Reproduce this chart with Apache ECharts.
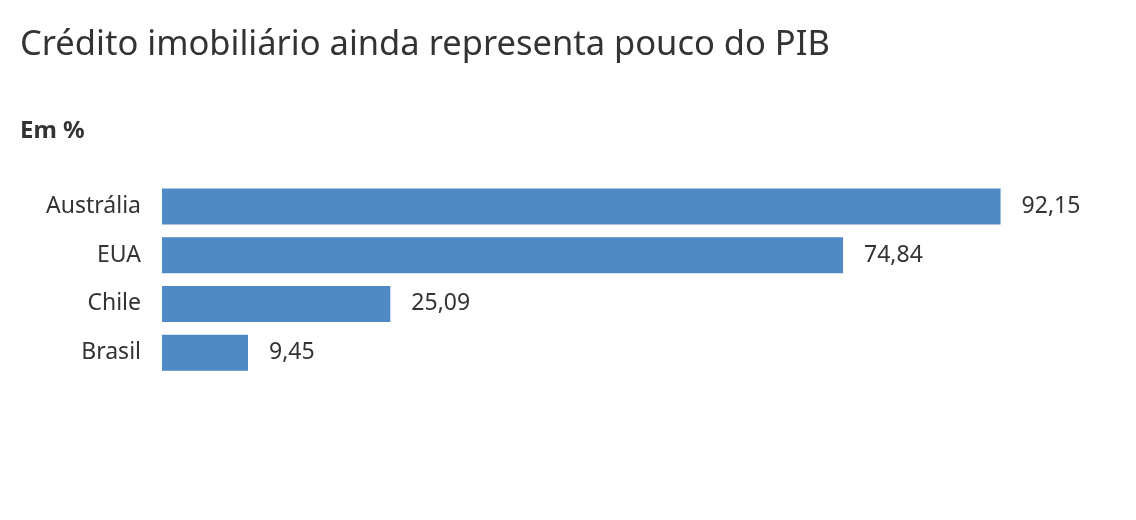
<!DOCTYPE html>
<html><head><meta charset="utf-8">
<script src="https://cdn.jsdelivr.net/npm/echarts@6/dist/echarts.min.js"></script>
<style>html,body{margin:0;padding:0;background:#fff}#c{width:1136px;height:520px}</style>
</head><body><div id="c"></div>
<script>
const categories = ['Austrália', 'EUA', 'Chile', 'Brasil'];
const values = [92.15, 74.84, 25.09, 9.45];
const titleText = 'Crédito imobiliário ainda representa pouco do PIB';
const subtitleText = 'Em %';
const FONT = '"Noto Sans", sans-serif';
const chart = echarts.init(document.getElementById('c'), null, {renderer: 'canvas'});
chart.setOption({
  animation: false,
  backgroundColor: '#fff',
  title: [
    {text: titleText, left: 20, top: 28, padding: 0, textStyle: {fontFamily: FONT, fontSize: 34.5, fontWeight: 'normal', color: '#333'}},
    {text: subtitleText, left: 20, top: 119, padding: 0, textStyle: {fontFamily: FONT, fontSize: 24, fontWeight: 'bold', color: '#333'}}
  ],
  grid: {left: 162, right: 64, top: 182, height: 195, containLabel: false},
  xAxis: {type: 'value', min: 0, max: 100, show: false},
  yAxis: {
    type: 'category', data: categories, inverse: true,
    axisLine: {show: false}, axisTick: {show: false}, splitLine: {show: false},
    axisLabel: {fontFamily: FONT, fontSize: 23, color: '#333', margin: 21}
  },
  series: [{
    type: 'bar', data: values, barWidth: 36,
    itemStyle: {color: '#4f89c6'},
    label: {show: true, position: 'right', distance: 21, fontFamily: FONT, fontSize: 23, color: '#333',
      formatter: p => p.value.toFixed(2).replace('.', ',')}
  }]
});
</script></body></html>
